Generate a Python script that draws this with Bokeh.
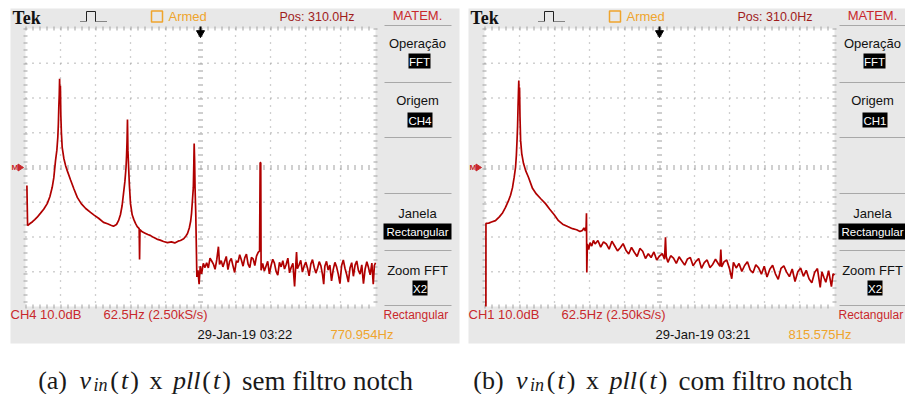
from bokeh.plotting import figure
from bokeh.models import Range1d
from bokeh.core.properties import value
from bokeh.embed import file_html
from bokeh.resources import INLINE

# ---------------- data ----------------
# (a) v_in(t) x pll(t), no notch filter (source CH4)
freq_a = [0, 1.2, 5, 10, 14, 18.4, 24, 30, 36.3, 41, 45.2, 48, 51.1, 53.5, 55.2, 56.2, 57.0, 57.8,
          58.4, 59.1, 59.8, 60.6, 61.6, 63.0, 66, 69, 72, 78, 84, 90, 97, 105, 113.6, 120, 128,
          136.8, 144, 150, 154.6, 160, 163.6, 167, 170, 172.5, 175, 177, 178, 178.8, 179.6, 180.4,
          181.4, 183, 185, 188, 191, 193.9, 197, 200.5, 201.2, 201.9, 206, 211, 216, 221, 226, 232,
          238, 244, 251, 258, 264, 270, 274.3, 280, 284, 286.8, 290, 292.5, 294, 295.8, 297.2, 298.0,
          298.7, 299.5, 300.3, 301.5, 303.5, 305.5, 307.5, 309.5, 312, 315,
          318, 321, 324, 327, 330, 333, 336, 339, 342, 344, 347, 350, 353, 356, 359, 362, 365, 368,
          371, 374, 377, 380, 383, 386, 389, 392, 395, 398, 401, 404, 407, 410, 413, 415.5, 416.5,
          417.6, 418.2,
          421, 424, 427, 430, 433, 436, 439, 442, 445, 448, 451, 454, 457, 460, 463, 466, 469, 472,
          475, 478, 480, 481.5, 483, 486, 489, 492, 495, 498, 501, 504, 507, 510, 513, 516, 519, 522,
          525, 528, 530, 532, 535, 538, 541, 544, 547, 550, 553, 556, 559, 562, 565, 568, 571, 574,
          577, 580, 583, 586, 589, 592, 595, 598, 601, 604, 607, 610, 613, 616, 618.5, 620.5, 622.5]
db_a = [-5.2, -16.7, -16.2, -15.6, -15.0, -14.3, -13.2, -12.0, -10.4, -8.4, -5.7, -3.0, 2.0, 5.0, 8.7,
        12.5, 17.5, 21.0, 25.5, 19.0, 23.5, 15.0, 10.0, 5.8, 2.6, 0.6, -0.9, -3.6, -6.2, -8.6, -10.4,
        -11.8, -12.9, -13.7, -14.6, -15.8, -16.2, -16.6, -16.9, -16.4, -15.3, -13.6, -11.0, -7.5, -4.0,
        0.0, 3.5, 7.5, 13.8, 5.0, 1.0, -5.0, -10.4, -13.6, -15.0, -16.1, -17.0, -17.6, -26.5, -17.9,
        -18.5, -18.9, -19.3, -19.6, -20.1, -20.6, -20.9, -21.3, -21.6, -21.4, -21.7, -21.2, -21.0,
        -20.5, -19.7, -19.0, -17.4, -15.4, -13.2, -9.0, -5.8, 0.5, 6.9, 2.0, -6.0, -13.0, -31.5, -29.6,
        -33.6, -28.4, -30.6, -27.6,
        -28.8, -27.4, -28.9, -26.1, -26.9, -27.8, -29.3, -26.6, -22.8, -27.9, -26.8, -28.6, -27.1,
        -25.6, -29.4, -27.0, -26.2, -28.3, -30.2, -26.9, -27.3, -25.1, -26.6, -28.4, -26.0, -24.9,
        -27.8, -28.8, -25.9, -26.3, -28.2, -25.5, -24.4, -24.0, 1.4, 1.4, -29.6,
        -27.6, -29.8, -28.4, -27.0, -30.6, -28.2, -26.4, -27.5, -29.9, -31.0, -27.3, -28.6, -26.8,
        -29.2, -27.9, -26.1, -30.3, -28.7, -27.6, -34.2, -28.5, -24.3, -29.1, -28.0, -26.7, -30.1,
        -28.4, -27.2, -28.9, -31.2, -27.8, -26.5, -28.7, -30.4, -29.0, -27.1, -28.3, -30.9, -33.6,
        -28.4, -27.0, -29.5, -28.1, -32.6, -29.4, -27.3, -28.6, -30.7, -33.4, -28.2, -26.6, -29.0,
        -30.8, -33.0, -28.9, -27.4, -31.3, -28.1, -26.9, -29.6, -30.7, -28.0, -33.4, -29.2, -27.1,
        -28.8, -30.9, -27.5, -33.6, -28.2, -27.4]

# (b) v_in(t) x pll(t), with notch filter (source CH1)
freq_b = [0, 0.1, 5, 10, 17.1, 24, 30, 35, 40, 44, 47.5, 50.5, 52.9, 54.4, 55.6, 56.6, 57.4, 58.1,
          58.75, 59.4, 60.1, 60.9, 62.0, 64.0, 67.1, 71, 76, 83.2, 90, 98, 106.4, 114, 122, 129.6,
          137, 146, 154.6, 162, 168, 172.5, 175, 177.5, 179.0, 179.6, 180.2, 181.2, 183.6, 186, 189,
          192, 195, 200,
          205, 210, 215, 220, 225, 230, 235, 240, 245, 250, 255, 260, 265, 270, 275, 280, 285, 290,
          295, 300, 305, 310, 315, 319, 320.7, 322, 325, 330, 335, 340, 345, 350, 355, 360, 365, 370,
          375, 380, 385, 390, 395, 400, 405, 410, 415, 418, 419.5, 421, 425, 430, 435, 439, 442, 447,
          452, 457, 462, 467, 472, 477, 482, 487, 492, 497, 502, 507, 512, 517, 522, 527, 532, 537,
          542, 547, 552, 557, 562, 567, 572, 577, 582, 587, 592, 597, 600, 604, 607, 612, 617, 620,
          622.5]
db_b = [-40.0, -16.1, -16.0, -15.7, -15.3, -14.2, -13.0, -11.5, -9.7, -8.0, -5.8, -2.8, 0.0, 3.5,
        7.8, 12.0, 17.5, 21.5, 25.0, 19.5, 23.0, 14.5, 7.8, 4.0, 1.2, -0.9, -2.8, -6.0, -7.6, -9.0,
        -10.4, -12.0, -13.6, -15.3, -16.3, -17.0, -17.6, -17.9, -18.4, -18.1, -17.4, -18.2, -17.0,
        -13.2, -30.2, -22.0, -23.6, -21.6, -22.6, -21.0, -22.0, -21.0,
        -22.9, -21.4, -22.0, -23.5, -21.2, -22.6, -24.0, -23.1, -21.9, -23.8, -24.9, -23.0, -24.4,
        -25.6, -23.3, -24.1, -26.2, -24.8, -25.9, -24.3, -26.6, -25.5, -24.8,
        -26.4, -20.1, -25.6, -27.3,
        -25.4, -26.1, -27.6, -25.7, -26.9, -28.1, -26.3, -25.9, -28.3, -27.0, -26.2, -29.0, -27.4,
        -26.6, -28.8, -27.9, -26.4, -27.7,
        -28.4, -23.6, -28.6, -27.2, -26.6, -29.1, -32.0, -27.3, -28.9,
        -27.6, -29.9, -28.2, -27.1, -29.5, -30.3, -28.0, -28.9, -30.7, -28.4, -31.5, -29.3, -28.1,
        -30.6, -32.2, -29.0, -28.3, -30.1, -31.4, -29.2, -32.8, -30.0, -28.9, -31.3, -29.6, -32.0,
        -33.2, -30.2, -29.1, -34.5,
        -30.0, -31.8, -33.0, -29.7, -34.3, -30.6, -31.0]

assert len(freq_a) == len(db_a) and len(freq_b) == len(db_b)

# ---------------- scope settings ----------------
center_hz = 310.0
hz_per_div = 62.5
db_per_div = 10.0
x_divs = 10
y_divs = 8

# ---------------- screen texts ----------------
tek_label = "Tek"
armed_label = "Armed"
pos_label = "Pos: 310.0Hz"
menu_title = "MATEM."
menu_items = ["Operação", "Origem", "Janela", "Zoom FFT"]
menu_values = {"a": ["FFT", "CH4", "Rectangular", "X2"], "b": ["FFT", "CH1", "Rectangular", "X2"]}
ch_labels = {"a": "CH4 10.0dB", "b": "CH1 10.0dB"}
span_label = "62.5Hz (2.50kS/s)"
window_label = "Rectangular"
dates = {"a": "29-Jan-19 03:22", "b": "29-Jan-19 03:21"}
freq_readouts = {"a": "770.954Hz", "b": "815.575Hz"}
caption_words = {
    "a": ["(a)", "v", "in", "(", "t", ")", "x", "pll", "(", "t", ")", "sem filtro notch"],
    "b": ["(b)", "v", "in", "(", "t", ")", "x", "pll", "(", "t", ")", "com filtro notch"],
}

# ---------------- layout ----------------
W, H = 905, 394
X0, Y0 = 0, 0
SCOPE_FONT = "Liberation Sans"
SERIF = "Liberation Serif"
RED = "#c8282c"
DRED = "#a01c1c"
ORANGE = "#efa42c"
GRAYBG = "#e8e8e8"
GRIDC = "#a0a0a0"
TRACE = "#b00000"

p = figure(width=W, height=H, x_range=Range1d(X0, X0 + W), y_range=Range1d(Y0 + H, Y0),
           output_backend="svg", toolbar_location=None, min_border=0,
           x_axis_location=None, y_axis_location=None, outline_line_color=None,
           background_fill_color="white", border_fill_color="white")
p.grid.visible = False

GT, GB, GW = 28.0, 306.0, 350.0
f_lo = center_hz - x_divs / 2 * hz_per_div
f_hi = center_hz + x_divs / 2 * hz_per_div
db_hi = y_divs / 2 * db_per_div
db_lo = -db_hi
px_per_hz = GW / (f_hi - f_lo)
px_per_db = (GB - GT) / (db_hi - db_lo)

panels = [
    dict(key="a", dx=0, mdx=0, gl=25.0, right=459, freq=freq_a, db=db_a, cap0=35.0),
    dict(key="b", dx=458, mdx=455, gl=484.0, right=905, freq=freq_b, db=db_b, cap0=470.0),
]

xr = {}
for pn in panels:
    xr["f" + pn["key"]] = Range1d(f_lo + (X0 - pn["gl"]) / px_per_hz,
                                  f_lo + (X0 + W - pn["gl"]) / px_per_hz)
p.extra_x_ranges = xr
p.extra_y_ranges = {"db": Range1d(db_hi - (Y0 + H - GT) / px_per_db,
                                  db_hi + (GT - Y0) / px_per_db)}


def txt(xs, ys, texts, size, color, font=SCOPE_FONT, align="left", style="normal",
        baseline="middle"):
    p.text(x=xs, y=ys, text=texts, text_font=value(font), text_font_size=f"{size}px",
           text_color=color, text_align=align, text_baseline=baseline, text_font_style=style)


# caption layout: piece anchors measured from the start of each caption
cap_off = [17.1, 49.7, 65.0, 79.1, 89.1, 99.2, 120.4, 151.2, 171.1, 181.1, 191.2, 206.5]
cap_kind = ["n", "i", "s", "n", "i", "n", "n", "i", "n", "i", "n", "p"]

for pn in panels:
    k, dx, mdx = pn["key"], pn["dx"], pn["mdx"]
    fr, dr = "f" + k, "db"
    # screen background
    p.quad(left=[10 + dx], right=[pn["right"]], top=[8], bottom=[343], fill_color=GRAYBG,
           line_color=None)
    p.quad(left=[f_lo], right=[f_hi], top=[db_hi], bottom=[db_lo], fill_color="white",
           line_color=None, x_range_name=fr, y_range_name=dr)
    # graticule
    vx = [f_lo + i * hz_per_div for i in range(1, x_divs) if i != x_divs // 2]
    hy = [db_lo + j * db_per_div for j in range(1, y_divs) if j != y_divs // 2]
    p.segment(x0=vx, y0=db_hi, x1=vx, y1=db_lo, line_color=GRIDC, line_width=1.3,
              line_dash="1 6", x_range_name=fr, y_range_name=dr)
    p.segment(x0=f_lo, y0=hy, x1=f_hi, y1=hy, line_color=GRIDC, line_width=1.3,
              line_dash="1 6", x_range_name=fr, y_range_name=dr)
    p.segment(x0=[center_hz, f_lo], y0=[db_hi, 0.0], x1=[center_hz, f_hi], y1=[db_lo, 0.0],
              line_color=GRIDC, line_width=5, line_dash="1 6", x_range_name=fr, y_range_name=dr)
    p.segment(x0=[f_lo, f_lo, f_lo, f_hi], y0=[db_hi, db_lo, db_hi, db_hi],
              x1=[f_hi, f_hi, f_lo, f_hi], y1=[db_hi, db_lo, db_lo, db_lo],
              line_color=GRIDC, line_width=4, line_dash="1 6", x_range_name=fr, y_range_name=dr)
    # FFT trace
    p.line(x=pn["freq"], y=pn["db"], line_color=TRACE, line_width=1.7, x_range_name=fr,
           y_range_name=dr)

    # header
    txt([12 + dx], [17], [tek_label], 18, "#111111", font=SERIF, style="bold")
    p.line(x=[86 + dx, 86 + dx, 95 + dx, 95 + dx], y=[21, 11, 11, 21], line_color="#222222",
           line_width=1)
    p.multi_line(xs=[[80 + dx, 86 + dx], [95 + dx, 106 + dx]], ys=[[21, 21], [21, 21]],
                 line_color="#222222", line_width=1, line_dash="1 1")
    p.quad(left=[151 + dx], right=[162 + dx], top=[10.5], bottom=[21.5], fill_color=None,
           line_color=ORANGE, line_width=1.5)
    txt([168 + dx], [16], [armed_label], 13, ORANGE)
    txt([279 + dx], [16], [pos_label], 12.5, DRED)
    cx = pn["gl"] + GW / 2
    p.segment(x0=[cx], y0=[26], x1=[cx], y1=[31], line_color="black", line_width=2)
    p.scatter(x=[cx], y=[32.5], marker="inverted_triangle", size=8, color="black")
    # reference marker
    txt([11 + dx], [167], ["M"], 8, RED, style="bold")
    p.patch(x=[17.5 + dx, 17.5 + dx, 23 + dx], y=[163.5, 170.5, 167], color=RED)

    # menu
    mc = 417 + mdx
    txt([mc], [15], [menu_title], 13, RED, align="center")
    txt([mc] * 4, [43, 100, 213, 270], menu_items, 13, "#111111", align="center")
    sep_y = [25, 82, 137, 193, 250, 305]
    p.segment(x0=[384 + mdx] * 6, y0=sep_y, x1=[451 + mdx] * 6, y1=sep_y, line_color="#a8a8a8",
              line_width=1)
    p.quad(left=[408 + mdx, 407 + mdx, 383 + mdx, 412 + mdx],
           right=[430 + mdx, 432 + mdx, 451 + mdx, 427 + mdx],
           top=[53, 112, 223, 280], bottom=[68, 127, 239, 295], fill_color="black",
           line_color=None)
    txt([419 + mdx, 419.5 + mdx, 417 + mdx, 419.5 + mdx], [61, 120, 231.5, 288], menu_values[k],
        11.5, "white", align="center")

    # bottom readouts
    txt([10 + dx, 103 + dx], [314, 314], [ch_labels[k], span_label], 13, RED)
    txt([383 + mdx], [314], [window_label], 12, RED)
    txt([197 + dx], [334], [dates[k]], 13, "#111111")
    txt([330 + dx], [334], [freq_readouts[k]], 13, ORANGE)

    # caption
    c0 = pn["cap0"]
    words = caption_words[k]
    extra = [0.0] * len(words)
    if k == "b":
        extra = [0.8] + [1.5] * 11
    for kind, style, size, base, align in [("n", "normal", 26, 380, "center"),
                                           ("i", "italic", 26, 380, "center"),
                                           ("s", "italic", 18, 384, "center"),
                                           ("p", "normal", 27, 380, "left")]:
        sel = [i for i, kk in enumerate(cap_kind) if kk == kind]
        txt([c0 + cap_off[i] + extra[i] for i in sel], [base] * len(sel), [words[i] for i in sel],
            size, "#1a1a1a", font=SERIF, align=align, style=style, baseline="alphabetic")

open("out.html", "w").write(file_html(p, INLINE))
